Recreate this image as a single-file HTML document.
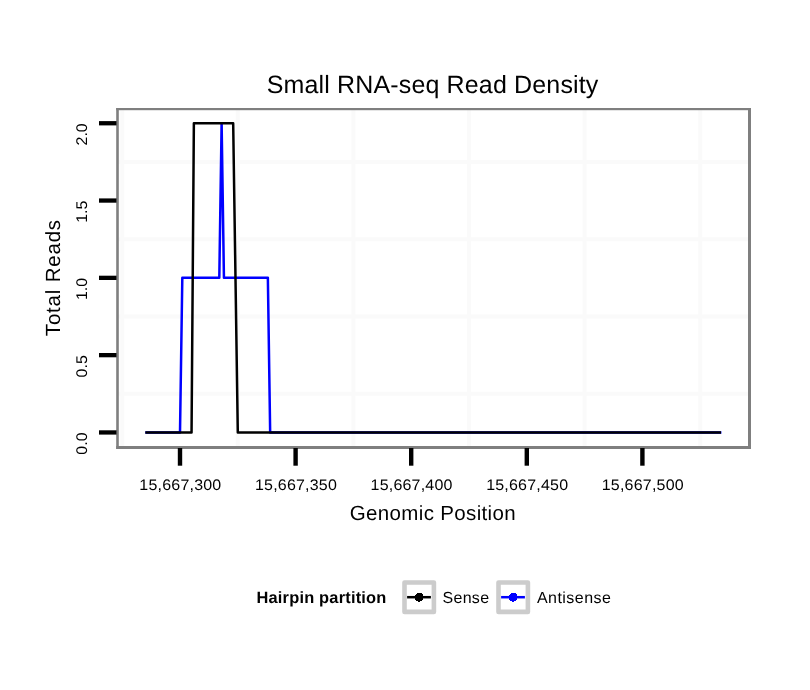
<!DOCTYPE html>
<html><head><meta charset="utf-8"><title>Small RNA-seq Read Density</title><style>
html,body{margin:0;padding:0;background:#fff;width:810px;height:690px;overflow:hidden;}
svg{display:block;}
text{font-family:"Liberation Sans",Arial,sans-serif;fill:#000;text-rendering:geometricPrecision;}
</style></head><body>
<svg width="810" height="690" viewBox="0 0 810 690">
<rect x="0" y="0" width="810" height="690" fill="#fff"/>
<g stroke="#FAFAFA" stroke-width="4" fill="none"><line x1="122.20" y1="109" x2="122.20" y2="447"/><line x1="237.80" y1="109" x2="237.80" y2="447"/><line x1="353.40" y1="109" x2="353.40" y2="447"/><line x1="469.00" y1="109" x2="469.00" y2="447"/><line x1="584.60" y1="109" x2="584.60" y2="447"/><line x1="700.20" y1="109" x2="700.20" y2="447"/><line x1="118" y1="393.80" x2="749" y2="393.80"/><line x1="118" y1="316.50" x2="749" y2="316.50"/><line x1="118" y1="239.20" x2="749" y2="239.20"/><line x1="118" y1="161.90" x2="749" y2="161.90"/></g>
<g fill="#7F7F7F"><rect x="116.2" y="108" width="634.8" height="2.2"/><rect x="116.2" y="446" width="634.8" height="3"/><rect x="116.2" y="108" width="2.6" height="341"/><rect x="748" y="108" width="3" height="341"/></g>
<g stroke="#000" stroke-width="4.3" fill="none"><line x1="99" y1="432.45" x2="116.5" y2="432.45"/><line x1="99" y1="355.15" x2="116.5" y2="355.15"/><line x1="99" y1="277.85" x2="116.5" y2="277.85"/><line x1="99" y1="200.55" x2="116.5" y2="200.55"/><line x1="99" y1="123.25" x2="116.5" y2="123.25"/></g>
<g stroke="#000" stroke-width="4.4" fill="none"><line x1="180.00" y1="448" x2="180.00" y2="465.7"/><line x1="295.60" y1="448" x2="295.60" y2="465.7"/><line x1="411.20" y1="448" x2="411.20" y2="465.7"/><line x1="526.80" y1="448" x2="526.80" y2="465.7"/><line x1="642.40" y1="448" x2="642.40" y2="465.7"/></g>
<polyline points="145.32,432.45 180.00,432.45 182.31,277.85 219.30,277.85 221.62,123.25 223.93,277.85 267.86,277.85 270.17,432.45 721.41,432.45" fill="none" stroke="#0000FF" stroke-width="2.5" stroke-linejoin="round" stroke-linecap="butt"/>
<polyline points="145.32,432.45 191.56,432.45 193.87,123.25 233.18,123.25 237.80,432.45 721.01,432.45" fill="none" stroke="#000" stroke-width="2.5" stroke-linejoin="round" stroke-linecap="butt"/>
<g opacity="0.999">
<text x="432.6" y="93" text-anchor="middle" font-size="25" letter-spacing="0.15">Small RNA-seq Read Density</text>
<g text-anchor="middle" font-size="16" letter-spacing="0.2"><text transform="translate(180.40,490.2) scale(1,0.955)">15,667,300</text><text transform="translate(296.00,490.2) scale(1,0.955)">15,667,350</text><text transform="translate(411.60,490.2) scale(1,0.955)">15,667,400</text><text transform="translate(527.20,490.2) scale(1,0.955)">15,667,450</text><text transform="translate(642.80,490.2) scale(1,0.955)">15,667,500</text></g>
<text x="432.9" y="519.7" text-anchor="middle" font-size="20.5" letter-spacing="0.35">Genomic Position</text>
<text transform="translate(59.8,277.6) rotate(-90)" text-anchor="middle" font-size="20.5" letter-spacing="0.8">Total Reads</text>
<g text-anchor="end" font-size="16" letter-spacing="0.0"><text transform="translate(87,432.45) rotate(-90) scale(1,0.97)">0.0</text><text transform="translate(87,355.15) rotate(-90) scale(1,0.97)">0.5</text><text transform="translate(87,277.85) rotate(-90) scale(1,0.97)">1.0</text><text transform="translate(87,200.55) rotate(-90) scale(1,0.97)">1.5</text><text transform="translate(87,123.25) rotate(-90) scale(1,0.97)">2.0</text></g>
<text x="256.5" y="602.9" font-weight="bold" font-size="16.4" letter-spacing="0.2">Hairpin partition</text>
<text x="442.5" y="603" font-size="16" letter-spacing="0.3">Sense</text>
<text x="537" y="602.8" font-size="16" letter-spacing="0.45">Antisense</text>
</g>
<g fill="#fff" stroke="#CCCCCC" stroke-width="4.6" stroke-linejoin="round">
<rect x="404.5" y="582.5" width="29.4" height="29.4"/>
<rect x="498.5" y="582.5" width="29.4" height="29.4"/>
</g>
<line x1="407.1" y1="597.2" x2="430.9" y2="597.2" stroke="#000" stroke-width="2.5"/>
<circle cx="419.2" cy="597.2" r="4.45" fill="#000" shape-rendering="crispEdges"/>
<line x1="501.1" y1="597.2" x2="524.9" y2="597.2" stroke="#0000FF" stroke-width="2.5"/>
<circle cx="513.2" cy="597.2" r="4.45" fill="#0000FF" shape-rendering="crispEdges"/>
</svg>
</body></html>
